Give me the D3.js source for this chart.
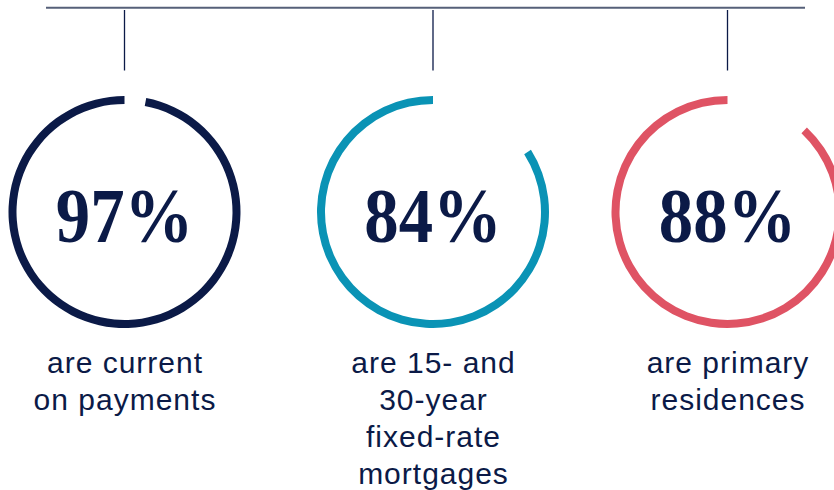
<!DOCTYPE html>
<html>
<head>
<meta charset="utf-8">
<style>
  body { margin: 0; background: #fff; }
  svg { display: block; }
</style>
</head>
<body>
<div id="rings"></div>
<script src="https://d3js.org/d3.v7.min.js"></script>
<script>
// values shown in the three rings
var keys = ["current", "fixed", "primary"];
var shares = [97, 84, 88];
var ringColors = ["#0b1a47", "#0a93b5", "#df5364"];
var captions = [
  ["are current", "on payments"],
  ["are 15- and", "30-year", "fixed-rate", "mortgages"],
  ["are primary", "residences"]
];

var width = 834, height = 490;
var navy = "#0b1a47";

var svg = d3.select("#rings").append("svg")
    .attr("width", width)
    .attr("height", height);

// ring centres (the layout is not evenly spaced)
var x = d3.scaleOrdinal()
    .domain(keys)
    .range([124.5, 433, 727.5]);

var cy = 212, r = 112, ring = 8;

var pct = d3.scaleLinear().domain([0, 100]).range([0, 2 * Math.PI]);

// top rule and the small connectors down to each ring
svg.append("line")
    .attr("x1", 46).attr("x2", 805)
    .attr("y1", 7.7).attr("y2", 7.7)
    .attr("stroke", "#566079")
    .attr("stroke-width", 2);

svg.selectAll(".tick")
    .data(keys)
    .enter().append("line")
    .attr("class", "tick")
    .attr("x1", function(d) { return x(d); })
    .attr("x2", function(d) { return x(d); })
    .attr("y1", 10).attr("y2", 70.5)
    .attr("stroke", navy)
    .attr("stroke-width", 1.3);

var arc = d3.arc()
    .innerRadius(r - ring / 2)
    .outerRadius(r + ring / 2);

var g = svg.selectAll(".ring")
    .data(keys)
    .enter().append("g")
    .attr("class", "ring")
    .attr("transform", function(d) { return "translate(" + x(d) + "," + cy + ")"; });

// arc runs counter-clockwise from 12 o'clock, gap on the right of the top
g.append("path")
    .attr("fill", function(d, i) { return ringColors[i]; })
    .attr("d", function(d, i) {
      return arc({ startAngle: pct(100 - shares[i]), endAngle: pct(100) });
    });

g.append("text")
    .attr("text-anchor", "middle")
    .attr("transform", "translate(0,30) scale(0.87,1)")
    .attr("fill", navy)
    .style("font-family", "'Liberation Serif', serif")
    .style("font-weight", "bold")
    .style("font-size", "79px")
    .text(function(d, i) { return shares[i] + "%"; });

g.each(function(d, i) {
  d3.select(this).selectAll(".cap")
    .data(captions[i])
    .enter().append("text")
    .attr("class", "cap")
    .attr("text-anchor", "middle")
    .attr("x", 0.5)
    .attr("y", function(t, j) { return 373 - cy + j * 37; })
    .attr("fill", navy)
    .style("font-family", "'Liberation Sans', Arial, sans-serif")
    .style("font-size", "30px")
    .style("letter-spacing", "1px")
    .text(function(t) { return t; });
});
</script>
</body>
</html>
